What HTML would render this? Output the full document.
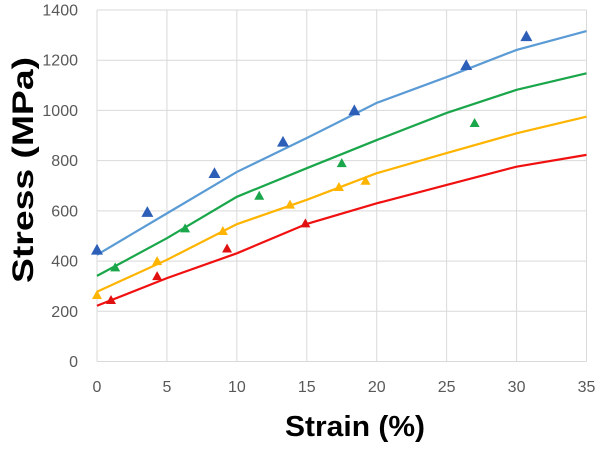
<!DOCTYPE html>
<html><head><meta charset="utf-8"><style>
body{margin:0;background:#fff;}
svg{display:block;font-family:"Liberation Sans",sans-serif;}
</style></head><body>
<svg id="chart" width="600" height="450"></svg>
<script>
const xTicks=[0,5,10,15,20,25,30,35];
const yTicks=[0,200,400,600,800,1000,1200,1400];
const lineX=[0,5,10,15,20,25,30,35];
const blueLine=[425,590,755,890,1030,1133,1241,1316];
const greenLine=[341,491,656,770,882,990,1082,1148];
const yellowLine=[278,405,547,644,750,830,909,975];
const redLine=[222,332,431,548,630,703,776,823];
const blueX=[0,3.6,8.4,13.3,18.4,26.4,30.7];
const blueY=[445,595,750,875,1000,1180,1295];
const greenX=[1.3,6.3,11.6,17.5,27.0];
const greenY=[375,530,660,790,950];
const yellowX=[0,4.3,9.0,13.8,17.3,19.2];
const yellowY=[265,400,520,625,695,720];
const redX=[1,4.3,9.3,14.9];
const redY=[245,340,450,550];

const L=97,R=586.5,T=10,B=361.5;
const sx=v=>L+v/35*(R-L);
const sy=v=>B-v/1400*(B-T);
const svg=document.getElementById('chart');
const NS='http://www.w3.org/2000/svg';
function mk(tag,attrs,parent){const e=document.createElementNS(NS,tag);for(const k in attrs)e.setAttribute(k,attrs[k]);(parent||svg).appendChild(e);return e;}

yTicks.forEach(t=>{
  const g=mk('line',{x1:L,x2:R,y1:sy(t),y2:sy(t),stroke:'#d9d9d9','stroke-width':1});
  
  
  const tx=mk('text',{x:78,y:sy(t)+5.5,'text-anchor':'end','font-size':16,fill:'#595959'});
  tx.textContent=t;
  
  
});
xTicks.forEach(t=>{
  const g=mk('line',{x1:sx(t),x2:sx(t),y1:T,y2:B,stroke:'#d9d9d9','stroke-width':1});
  
  
  const tx=mk('text',{x:sx(t),y:392,'text-anchor':'middle','font-size':16,fill:'#595959'});
  tx.textContent=t;
  
  
});

const series=[
 ['blue','#5b9bd5','#2e5fb8',blueLine,blueX,blueY],
 ['green','#1aa64a','#1aa64a',greenLine,greenX,greenY],
 ['yellow','#ffb400','#ffb400',yellowLine,yellowX,yellowY],
 ['red','#f01010','#e01010',redLine,redX,redY]
];
series.forEach(([n,lc,mc,ly,mx,my])=>{
  const p=mk('polyline',{points:lineX.map((x,i)=>sx(x)+','+sy(ly[i])).join(' '),fill:'none',stroke:lc,'stroke-width':2.2});
  
  
  const s=n==='blue'?6:5;
  mx.forEach((x,i)=>{
    const cx=sx(x),cy=sy(my[i]);
    const m=mk('polygon',{points:`${cx},${cy-s} ${cx-s},${cy+s*0.8} ${cx+s},${cy+s*0.8}`,fill:mc});
    
    
  });
});
const yt=mk('text',{x:0,y:0,transform:'translate(33,170) rotate(-90)','text-anchor':'middle','font-size':30,'font-weight':'bold',fill:'#000',textLength:226,lengthAdjust:'spacingAndGlyphs'});
yt.textContent='Stress (MPa)';


const xt=mk('text',{x:355,y:436,'text-anchor':'middle','font-size':29,'font-weight':'bold',fill:'#000',textLength:140,lengthAdjust:'spacingAndGlyphs'});
xt.textContent='Strain (%)';


</script>
</body></html>
